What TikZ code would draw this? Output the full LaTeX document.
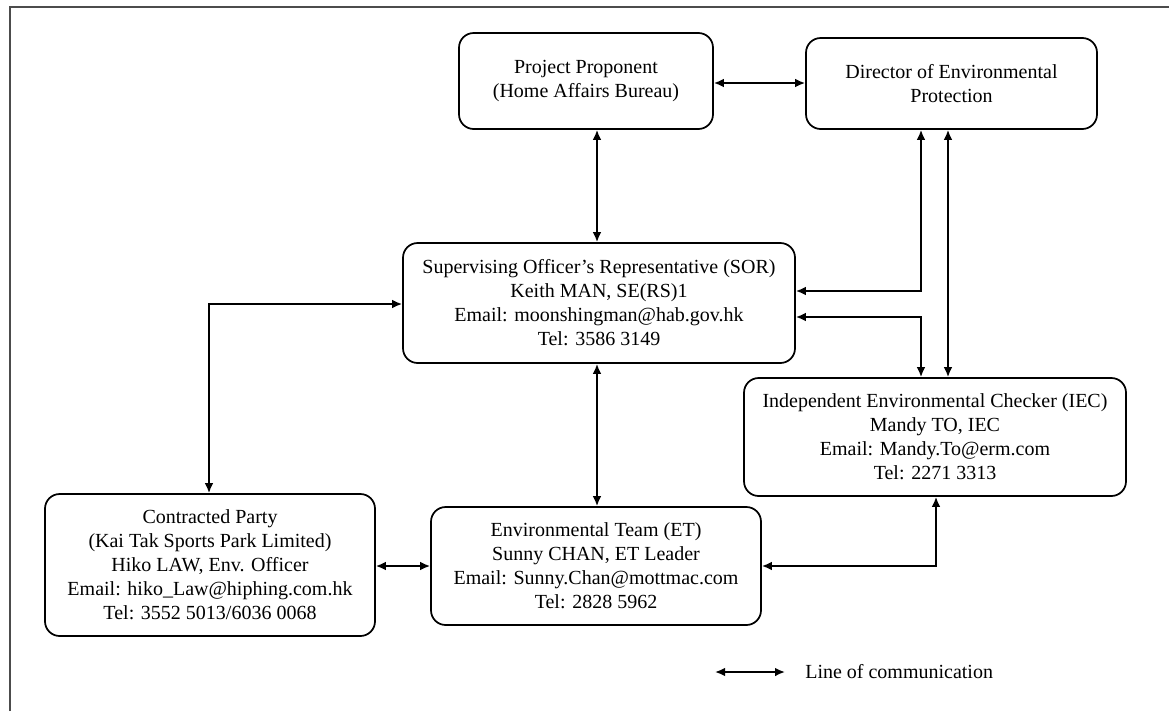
\documentclass[tikz,border=0pt]{standalone}
\usepackage{fontspec}
\setmainfont{Liberation Serif}
\usetikzlibrary{arrows.meta}
\begin{document}
\begin{tikzpicture}[x=0.75pt,y=-0.75pt,
  box/.style n args={2}{draw, line width=1.3pt, rounded corners=11pt, align=center,
    inner sep=0pt, minimum width=#1*0.75pt, minimum height=#2*0.75pt,
    font=\fontsize{15}{18}\selectfont},
  arr/.style={line width=1.3pt, {Latex[length=7.5pt,width=6.5pt]}-{Latex[length=7.5pt,width=6.5pt]}}]
\useasboundingbox (0,0) rectangle (1169,711);
\draw[line width=0.8pt, black!70] (10,711) -- (10,7) -- (1169,7);

\node[box={254}{96}] (pp) at (586,81) {Project Proponent\\(Home Affairs Bureau)};
\node[box={291}{91}] (dep) at (951.5,83.5) {Director of Environmental\\Protection};
\node[box={392}{120}] (sor) at (599,303) {Supervising Officer’s Representative (SOR)\\Keith MAN, SE(RS)1\\Email: moonshingman@hab.gov.hk\\Tel: 3586 3149};
\node[box={382}{118}] (iec) at (935,437) {Independent Environmental Checker (IEC)\\Mandy TO, IEC\\Email: Mandy.To@erm.com\\Tel: 2271 3313};
\node[box={330}{142}] (cp) at (210,565) {Contracted Party\\(Kai Tak Sports Park Limited)\\Hiko LAW, Env. Officer\\Email: hiko\_Law@hiphing.com.hk\\Tel: 3552 5013/6036 0068};
\node[box={330}{118}] (et) at (596,566) {Environmental Team (ET)\\Sunny CHAN, ET Leader\\Email: Sunny.Chan@mottmac.com\\Tel: 2828 5962};

\draw[arr] (pp.east |- 0,83) -- (dep.west |- 0,83);
\draw[arr] (pp.south -| 597,0) -- (sor.north -| 597,0);
\draw[arr] (dep.south -| 921,0) |- (sor.east |- 0,291);
\draw[arr] (sor.east |- 0,317) -| (iec.north -| 921,0);
\draw[arr] (dep.south -| 948,0) -- (iec.north -| 948,0);
\draw[arr] (sor.west |- 0,304) -| (cp.north -| 209,0);
\draw[arr] (sor.south -| 597,0) -- (et.north -| 597,0);
\draw[arr] (cp.east |- 0,566) -- (et.west |- 0,566);
\draw[arr] (et.east |- 0,566) -| (iec.south -| 936,0);

\coordinate (la) at (715,672);
\coordinate (lb) at (785,672);
\draw[arr] (la) -- (lb);
\node[anchor=west, inner sep=0pt, font=\fontsize{15}{18}\selectfont] (leg) at (805,672) {Line of communication};
\end{tikzpicture}
\end{document}
